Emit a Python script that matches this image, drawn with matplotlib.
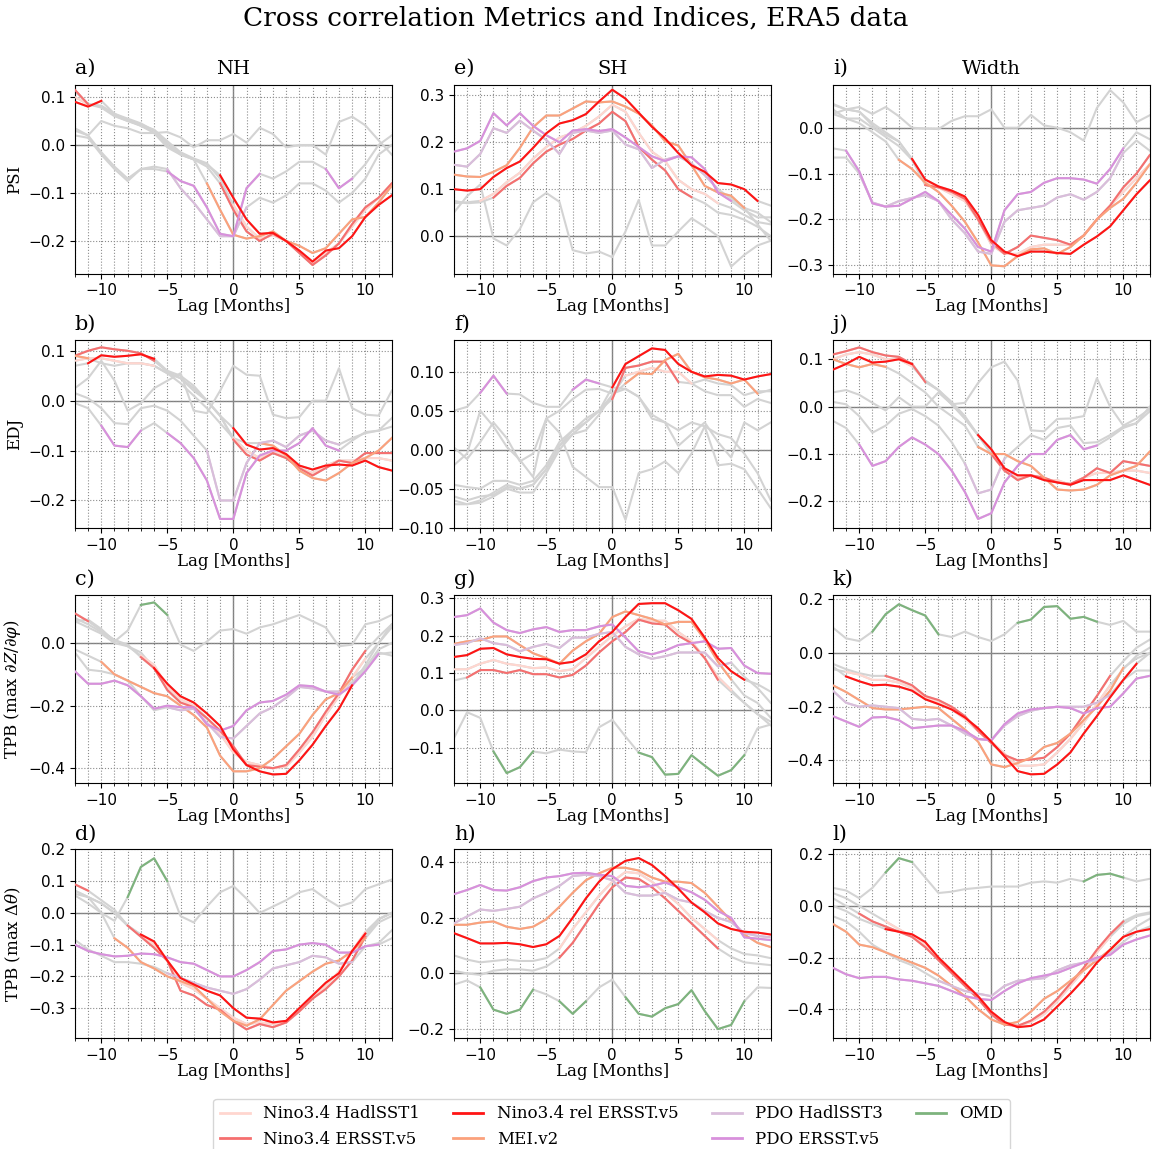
import matplotlib
matplotlib.use("Agg")
import matplotlib.pyplot as plt
import numpy as np
from matplotlib.lines import Line2D
from matplotlib.ticker import MultipleLocator

plt.rcParams['font.family'] = 'DejaVu Serif'
plt.rcParams['mathtext.fontset'] = 'dejavuserif'

lags = np.arange(-12, 13)

# series order in every panel
names = ["Nino3.4 HadlSST1", "Nino3.4 ERSST.v5", "Nino3.4 rel ERSST.v5", "MEI.v2",
         "PDO HadlSST3", "PDO ERSST.v5", "OMD"]
colours = ["#ffd6cf", "#f56f6f", "#ff1414", "#fba17c", "#d9bddb", "#d890dc", "#7db37d"]
grey = "#d3d3d3"

# ---- a) PSI NH ----
psi_nh = [
    [0.100, 0.085, 0.080, 0.062, 0.050, 0.042, 0.032, 0.008, -0.015, -0.028, -0.038, -0.070, -0.125, -0.170, -0.195, -0.188, -0.200, -0.222, -0.245, -0.225, -0.205, -0.170, -0.135, -0.110, -0.082],
    [0.115, 0.085, 0.082, 0.065, 0.052, 0.040, 0.030, 0.005, -0.018, -0.030, -0.045, -0.080, -0.135, -0.180, -0.200, -0.185, -0.200, -0.225, -0.250, -0.230, -0.205, -0.165, -0.130, -0.110, -0.080],
    [0.090, 0.080, 0.092, 0.065, 0.055, 0.045, 0.030, 0.000, -0.020, -0.030, -0.040, -0.063, -0.110, -0.155, -0.185, -0.183, -0.200, -0.220, -0.243, -0.220, -0.215, -0.190, -0.150, -0.125, -0.105],
    [0.112, 0.085, 0.078, 0.060, 0.050, 0.040, 0.025, -0.005, -0.020, -0.030, -0.080, -0.135, -0.187, -0.195, -0.190, -0.180, -0.200, -0.210, -0.225, -0.215, -0.185, -0.155, -0.150, -0.120, -0.085],
    [0.020, 0.015, -0.020, -0.050, -0.075, -0.050, -0.045, -0.050, -0.090, -0.120, -0.155, -0.190, -0.190, -0.130, -0.110, -0.120, -0.105, -0.080, -0.080, -0.095, -0.120, -0.100, -0.070, -0.020, 0.000],
    [0.035, 0.020, -0.015, -0.045, -0.070, -0.050, -0.050, -0.055, -0.075, -0.085, -0.130, -0.185, -0.190, -0.090, -0.060, -0.070, -0.055, -0.035, -0.035, -0.050, -0.090, -0.070, -0.040, 0.000, 0.020],
    [0.030, 0.020, 0.050, 0.040, 0.035, 0.025, 0.025, 0.027, 0.016, -0.005, 0.010, 0.010, 0.023, 0.005, 0.036, 0.023, -0.005, 0.000, 0.000, -0.020, 0.048, 0.059, 0.041, 0.010, -0.020],
]
psi_nh_sig = [[(-12, -11), (0, 12)], [(-12, -11), (-1, 12)], [(-12, -10), (-1, 12)], [(-12, -12), (-2, 12)],
              [(-5, 1)], [(-5, 2), (7, 9)], []]

# ---- b) EDJ NH ----
edj_nh = [
    [0.080, 0.085, 0.085, 0.080, 0.075, 0.075, 0.070, 0.055, 0.045, 0.020, 0.000, -0.030, -0.075, -0.100, -0.115, -0.100, -0.110, -0.135, -0.145, -0.130, -0.120, -0.120, -0.115, -0.115, -0.120],
    [0.090, 0.100, 0.107, 0.103, 0.100, 0.095, 0.080, 0.058, 0.045, 0.025, 0.000, -0.030, -0.078, -0.108, -0.120, -0.105, -0.115, -0.135, -0.150, -0.135, -0.120, -0.125, -0.105, -0.105, -0.105],
    [0.070, 0.075, 0.091, 0.088, 0.090, 0.093, 0.084, 0.060, 0.050, 0.030, 0.000, -0.030, -0.055, -0.088, -0.098, -0.095, -0.107, -0.130, -0.138, -0.130, -0.128, -0.130, -0.120, -0.133, -0.140],
    [0.090, 0.085, 0.075, 0.070, 0.075, 0.075, 0.070, 0.055, 0.035, 0.010, -0.015, -0.045, -0.075, -0.085, -0.085, -0.090, -0.110, -0.140, -0.155, -0.160, -0.145, -0.125, -0.115, -0.100, -0.075],
    [0.015, 0.005, -0.015, -0.045, -0.047, -0.015, -0.010, -0.020, -0.040, -0.070, -0.100, -0.200, -0.200, -0.125, -0.085, -0.080, -0.093, -0.070, -0.060, -0.080, -0.088, -0.075, -0.065, -0.060, -0.035],
    [-0.005, -0.015, -0.050, -0.090, -0.093, -0.060, -0.045, -0.065, -0.085, -0.115, -0.160, -0.237, -0.237, -0.145, -0.110, -0.100, -0.100, -0.085, -0.055, -0.090, -0.100, -0.080, -0.063, -0.060, -0.052],
    [0.025, 0.045, 0.080, 0.040, -0.020, -0.005, 0.025, 0.040, 0.055, -0.020, -0.025, 0.020, 0.070, 0.052, 0.050, -0.028, -0.035, -0.033, 0.000, 0.000, 0.065, -0.015, -0.028, -0.030, 0.020],
]
edj_nh_sig = [[(-12, -6), (0, 12)], [(-12, -6), (0, 12)], [(-11, -6), (0, 12)], [(-12, -11), (2, 12)],
              [(-2, 8)], [(-10, -7), (-5, 8)], []]

# ---- c) TPB NH (max dZ/dphi) ----
tpb_nh = [
    [0.080, 0.060, 0.035, 0.010, -0.010, -0.040, -0.070, -0.140, -0.180, -0.200, -0.240, -0.290, -0.350, -0.380, -0.390, -0.400, -0.395, -0.350, -0.300, -0.230, -0.170, -0.110, -0.050, 0.000, 0.050],
    [0.095, 0.070, 0.040, 0.010, -0.005, -0.045, -0.080, -0.150, -0.190, -0.205, -0.240, -0.280, -0.330, -0.390, -0.395, -0.400, -0.390, -0.340, -0.285, -0.220, -0.160, -0.085, -0.025, 0.020, 0.060],
    [0.070, 0.050, 0.030, 0.000, -0.010, -0.030, -0.080, -0.130, -0.170, -0.190, -0.225, -0.265, -0.340, -0.390, -0.410, -0.420, -0.418, -0.375, -0.325, -0.265, -0.210, -0.135, -0.070, 0.000, 0.060],
    [-0.020, -0.040, -0.060, -0.100, -0.120, -0.140, -0.160, -0.170, -0.200, -0.230, -0.270, -0.360, -0.410, -0.410, -0.400, -0.370, -0.330, -0.290, -0.230, -0.180, -0.160, -0.110, -0.080, -0.020, 0.000],
    [-0.030, -0.085, -0.090, -0.100, -0.120, -0.170, -0.215, -0.205, -0.215, -0.210, -0.255, -0.300, -0.305, -0.265, -0.225, -0.205, -0.175, -0.140, -0.145, -0.155, -0.155, -0.125, -0.085, -0.030, -0.040],
    [-0.090, -0.130, -0.130, -0.120, -0.135, -0.170, -0.210, -0.200, -0.205, -0.205, -0.260, -0.280, -0.265, -0.215, -0.190, -0.185, -0.165, -0.135, -0.138, -0.155, -0.165, -0.135, -0.090, -0.035, -0.030],
    [0.070, 0.075, 0.045, 0.005, 0.040, 0.122, 0.130, 0.090, -0.005, -0.025, 0.005, 0.040, 0.045, 0.030, 0.050, 0.060, 0.075, 0.090, 0.070, 0.050, -0.010, -0.005, 0.060, 0.070, 0.090],
]
tpb_nh_sig = [[(-7, 10)], [(-12, -11), (-7, 10)], [(-6, 9)], [(-10, 9)], [(-5, 8)], [(-12, 11)], [(-7, -5)]]

# ---- d) TPB NH (max dtheta) ----
tpb2_nh = [
    [0.060, 0.050, 0.030, 0.000, -0.040, -0.070, -0.100, -0.150, -0.220, -0.240, -0.270, -0.300, -0.330, -0.350, -0.345, -0.350, -0.345, -0.310, -0.270, -0.230, -0.185, -0.120, -0.060, -0.020, 0.000],
    [0.090, 0.070, 0.040, 0.010, -0.040, -0.075, -0.110, -0.150, -0.245, -0.260, -0.290, -0.305, -0.340, -0.367, -0.350, -0.360, -0.345, -0.310, -0.270, -0.240, -0.200, -0.150, -0.075, -0.020, 0.000],
    [0.070, 0.050, 0.030, 0.000, -0.040, -0.068, -0.090, -0.150, -0.205, -0.225, -0.245, -0.260, -0.300, -0.330, -0.333, -0.345, -0.340, -0.300, -0.260, -0.220, -0.190, -0.120, -0.065, -0.020, 0.000],
    [0.055, 0.030, 0.000, -0.080, -0.110, -0.155, -0.175, -0.200, -0.215, -0.230, -0.270, -0.310, -0.340, -0.355, -0.335, -0.290, -0.245, -0.215, -0.185, -0.160, -0.150, -0.120, -0.080, -0.030, -0.010],
    [-0.085, -0.115, -0.135, -0.155, -0.155, -0.160, -0.170, -0.190, -0.205, -0.220, -0.235, -0.245, -0.255, -0.240, -0.210, -0.175, -0.165, -0.155, -0.135, -0.140, -0.160, -0.155, -0.105, -0.095, -0.055],
    [-0.100, -0.120, -0.130, -0.137, -0.135, -0.128, -0.130, -0.140, -0.155, -0.160, -0.180, -0.200, -0.200, -0.180, -0.155, -0.120, -0.115, -0.100, -0.095, -0.100, -0.125, -0.125, -0.105, -0.100, -0.080],
    [0.070, 0.050, 0.000, -0.025, 0.050, 0.145, 0.172, 0.100, -0.010, -0.030, 0.020, 0.065, 0.085, 0.045, 0.000, 0.020, 0.040, 0.065, 0.075, 0.045, 0.020, 0.033, 0.075, 0.090, 0.105],
]
tpb2_nh_sig = [[(-7, 10)], [(-12, -11), (-8, 10)], [(-7, 10)], [(-9, 10)], [(-5, 9)], [(-12, 11)], [(-8, -5)]]

# ---- e) PSI SH ----
psi_sh = [
    [0.070, 0.072, 0.075, 0.090, 0.115, 0.135, 0.165, 0.190, 0.210, 0.220, 0.235, 0.255, 0.280, 0.265, 0.220, 0.180, 0.160, 0.120, 0.100, 0.090, 0.070, 0.060, 0.045, 0.030, 0.025],
    [0.075, 0.070, 0.072, 0.082, 0.107, 0.124, 0.155, 0.180, 0.195, 0.207, 0.225, 0.240, 0.265, 0.245, 0.190, 0.163, 0.140, 0.100, 0.083, 0.070, 0.050, 0.045, 0.035, 0.020, 0.000],
    [0.100, 0.097, 0.100, 0.126, 0.145, 0.159, 0.188, 0.219, 0.240, 0.247, 0.260, 0.287, 0.312, 0.293, 0.263, 0.233, 0.208, 0.177, 0.151, 0.137, 0.113, 0.110, 0.100, 0.075, 0.065],
    [0.131, 0.127, 0.126, 0.137, 0.151, 0.188, 0.232, 0.257, 0.257, 0.272, 0.287, 0.285, 0.287, 0.276, 0.261, 0.236, 0.202, 0.193, 0.151, 0.107, 0.093, 0.086, 0.060, 0.050, 0.030],
    [0.152, 0.148, 0.175, 0.230, 0.220, 0.246, 0.225, 0.205, 0.175, 0.220, 0.225, 0.220, 0.225, 0.195, 0.185, 0.145, 0.163, 0.170, 0.155, 0.130, 0.100, 0.080, 0.060, 0.025, -0.010],
    [0.180, 0.187, 0.203, 0.262, 0.236, 0.262, 0.235, 0.215, 0.200, 0.225, 0.228, 0.224, 0.228, 0.210, 0.190, 0.170, 0.160, 0.170, 0.168, 0.143, 0.093, 0.075, 0.055, 0.040, 0.040],
    [0.050, 0.085, 0.110, -0.005, -0.020, 0.015, 0.072, 0.092, 0.073, -0.030, -0.037, -0.033, -0.045, 0.010, 0.077, -0.020, -0.020, 0.010, 0.038, 0.020, 0.000, -0.065, -0.040, -0.020, -0.010],
]
psi_sh_sig = [[(-10, 8)], [(-9, 6)], [(-12, 11)], [(-12, 10)], [(-12, 8)], [(-12, 9)], []]

# ---- f) EDJ SH ----
edj_sh = [
    [-0.060, -0.065, -0.060, -0.058, -0.048, -0.050, -0.045, -0.025, 0.005, 0.025, 0.035, 0.050, 0.070, 0.095, 0.100, 0.105, 0.100, 0.100, 0.085, 0.090, 0.085, 0.083, 0.070, 0.075, 0.075],
    [-0.045, -0.048, -0.050, -0.040, -0.040, -0.045, -0.040, -0.020, 0.010, 0.025, 0.040, 0.050, 0.065, 0.105, 0.108, 0.113, 0.113, 0.087, 0.085, 0.075, 0.070, 0.070, 0.055, 0.065, 0.060],
    [-0.065, -0.070, -0.065, -0.055, -0.045, -0.050, -0.045, -0.025, 0.005, 0.020, 0.035, 0.050, 0.080, 0.110, 0.120, 0.130, 0.128, 0.110, 0.100, 0.094, 0.096, 0.095, 0.090, 0.094, 0.097],
    [-0.070, -0.070, -0.068, -0.060, -0.050, -0.055, -0.055, -0.030, 0.000, 0.020, 0.025, 0.045, 0.070, 0.085, 0.098, 0.097, 0.115, 0.123, 0.100, 0.093, 0.090, 0.085, 0.090, 0.072, 0.077],
    [0.003, -0.012, 0.010, 0.035, 0.015, -0.015, -0.005, 0.040, 0.050, 0.065, 0.077, 0.078, 0.072, 0.078, 0.068, 0.045, 0.035, 0.005, 0.020, 0.035, 0.010, -0.010, 0.035, 0.025, 0.035],
    [0.050, 0.055, 0.073, 0.095, 0.072, 0.071, 0.060, 0.055, 0.055, 0.077, 0.090, 0.085, 0.080, 0.078, 0.068, 0.040, 0.035, 0.025, 0.035, 0.030, 0.020, 0.015, -0.005, -0.030, -0.065],
    [-0.020, -0.005, 0.050, 0.030, 0.004, -0.013, -0.035, 0.040, 0.022, -0.022, -0.035, -0.048, -0.048, -0.090, -0.030, -0.025, -0.015, -0.030, -0.005, 0.030, -0.020, -0.018, -0.025, -0.050, -0.075],
]
edj_sh_sig = [[(1, 6)], [(0, 5)], [(0, 12)], [(1, 11)], [], [(-10, -8), (-3, -1)], []]

# ---- g) TPB SH (max dZ/dphi) ----
tpb_sh = [
    [0.110, 0.110, 0.125, 0.135, 0.125, 0.120, 0.113, 0.115, 0.105, 0.110, 0.140, 0.170, 0.200, 0.225, 0.245, 0.240, 0.240, 0.210, 0.185, 0.140, 0.090, 0.055, 0.020, -0.010, -0.030],
    [0.080, 0.088, 0.108, 0.108, 0.100, 0.108, 0.097, 0.097, 0.088, 0.095, 0.120, 0.155, 0.185, 0.210, 0.243, 0.233, 0.230, 0.200, 0.180, 0.140, 0.082, 0.050, 0.020, -0.010, -0.040],
    [0.143, 0.148, 0.165, 0.167, 0.150, 0.143, 0.138, 0.137, 0.125, 0.130, 0.150, 0.185, 0.210, 0.250, 0.285, 0.287, 0.287, 0.268, 0.245, 0.195, 0.140, 0.105, 0.082, 0.070, 0.050],
    [0.178, 0.185, 0.188, 0.198, 0.198, 0.175, 0.153, 0.140, 0.125, 0.160, 0.185, 0.205, 0.250, 0.265, 0.255, 0.245, 0.230, 0.237, 0.237, 0.190, 0.130, 0.083, 0.040, 0.020, -0.020],
    [0.175, 0.180, 0.193, 0.180, 0.175, 0.158, 0.170, 0.178, 0.167, 0.195, 0.195, 0.205, 0.210, 0.170, 0.150, 0.138, 0.145, 0.155, 0.155, 0.155, 0.118, 0.128, 0.090, 0.060, 0.020],
    [0.250, 0.255, 0.273, 0.235, 0.215, 0.207, 0.217, 0.223, 0.210, 0.215, 0.215, 0.225, 0.230, 0.195, 0.158, 0.150, 0.160, 0.175, 0.180, 0.185, 0.165, 0.167, 0.120, 0.100, 0.098],
    [-0.075, -0.005, -0.020, -0.110, -0.168, -0.152, -0.110, -0.115, -0.105, -0.110, -0.112, -0.045, -0.025, -0.070, -0.113, -0.125, -0.172, -0.170, -0.120, -0.148, -0.175, -0.160, -0.120, -0.048, -0.038],
]
tpb_sh_sig = [[(-12, 9)], [(-11, 8)], [(-12, 10)], [(-12, 9)], [(-12, 9)], [(-12, 12)], [(-9, -6), (2, 10)]]

# ---- h) TPB SH (max dtheta) ----
tpb2_sh = [
    [0.065, 0.050, 0.040, 0.045, 0.050, 0.045, 0.045, 0.055, 0.090, 0.160, 0.220, 0.280, 0.330, 0.365, 0.360, 0.330, 0.290, 0.250, 0.200, 0.160, 0.120, 0.090, 0.070, 0.065, 0.055],
    [0.010, 0.000, -0.005, 0.010, 0.015, 0.015, 0.010, 0.025, 0.057, 0.110, 0.180, 0.250, 0.310, 0.345, 0.340, 0.310, 0.270, 0.225, 0.180, 0.135, 0.090, 0.060, 0.040, 0.035, 0.030],
    [0.145, 0.127, 0.108, 0.108, 0.110, 0.105, 0.095, 0.105, 0.135, 0.200, 0.270, 0.330, 0.375, 0.405, 0.415, 0.390, 0.350, 0.305, 0.255, 0.220, 0.180, 0.160, 0.150, 0.147, 0.140],
    [0.175, 0.175, 0.183, 0.187, 0.168, 0.160, 0.168, 0.195, 0.240, 0.290, 0.335, 0.360, 0.380, 0.380, 0.370, 0.345, 0.330, 0.330, 0.325, 0.290, 0.240, 0.190, 0.140, 0.110, 0.095],
    [0.180, 0.205, 0.230, 0.225, 0.232, 0.240, 0.270, 0.290, 0.315, 0.350, 0.355, 0.350, 0.335, 0.290, 0.280, 0.280, 0.290, 0.265, 0.255, 0.225, 0.200, 0.185, 0.145, 0.135, 0.130],
    [0.285, 0.300, 0.318, 0.300, 0.298, 0.310, 0.332, 0.345, 0.350, 0.360, 0.362, 0.355, 0.350, 0.315, 0.310, 0.315, 0.327, 0.310, 0.292, 0.265, 0.225, 0.200, 0.130, 0.125, 0.120],
    [-0.040, -0.025, -0.050, -0.130, -0.145, -0.130, -0.058, -0.075, -0.100, -0.145, -0.100, -0.050, -0.022, -0.085, -0.145, -0.155, -0.125, -0.110, -0.060, -0.135, -0.200, -0.185, -0.100, -0.050, -0.052],
]
tpb2_sh_sig = [[(-4, 8)], [(-4, 8)], [(-12, 12)], [(-12, 12)], [(-12, 12)], [(-12, 12)],
               [(-10, -6), (-4, -2), (1, 10)]]

# ---- i) Width PSI ----
psi_w = [
    [0.030, 0.020, 0.020, 0.000, -0.020, -0.040, -0.070, -0.120, -0.130, -0.145, -0.160, -0.200, -0.255, -0.275, -0.275, -0.260, -0.255, -0.255, -0.255, -0.235, -0.200, -0.170, -0.140, -0.110, -0.080],
    [0.050, 0.040, 0.035, 0.005, -0.015, -0.030, -0.070, -0.125, -0.130, -0.140, -0.155, -0.200, -0.250, -0.275, -0.260, -0.235, -0.240, -0.245, -0.255, -0.235, -0.200, -0.170, -0.130, -0.100, -0.060],
    [0.030, 0.040, 0.035, 0.010, -0.010, -0.030, -0.068, -0.113, -0.128, -0.137, -0.150, -0.190, -0.245, -0.270, -0.280, -0.270, -0.270, -0.273, -0.275, -0.255, -0.237, -0.215, -0.180, -0.145, -0.115],
    [0.040, 0.020, 0.010, -0.010, -0.030, -0.070, -0.090, -0.120, -0.140, -0.170, -0.205, -0.250, -0.300, -0.302, -0.280, -0.265, -0.263, -0.275, -0.260, -0.235, -0.200, -0.175, -0.155, -0.120, -0.080],
    [-0.065, -0.065, -0.100, -0.163, -0.172, -0.160, -0.153, -0.147, -0.160, -0.200, -0.230, -0.270, -0.275, -0.205, -0.180, -0.175, -0.170, -0.152, -0.145, -0.157, -0.140, -0.110, -0.055, -0.028, -0.050],
    [-0.045, -0.050, -0.095, -0.165, -0.172, -0.170, -0.155, -0.140, -0.160, -0.190, -0.220, -0.260, -0.270, -0.180, -0.145, -0.140, -0.120, -0.110, -0.110, -0.113, -0.122, -0.090, -0.045, -0.010, -0.025],
    [0.052, 0.040, 0.045, 0.030, 0.045, 0.025, 0.000, -0.002, -0.003, 0.015, 0.025, 0.025, 0.040, 0.000, 0.000, 0.028, 0.005, 0.000, -0.010, -0.028, 0.043, 0.082, 0.055, 0.012, 0.027],
]
psi_w_sig = [[(-5, 12)], [(-5, 12)], [(-6, 12)], [(-7, 12)], [(-10, 10)], [(-11, 10)], []]

# ---- j) Width EDJ ----
edj_w = [
    [0.100, 0.110, 0.115, 0.110, 0.100, 0.100, 0.085, 0.055, 0.035, 0.005, -0.025, -0.060, -0.100, -0.135, -0.150, -0.145, -0.155, -0.155, -0.165, -0.150, -0.140, -0.140, -0.135, -0.135, -0.140],
    [0.110, 0.117, 0.125, 0.115, 0.108, 0.105, 0.090, 0.052, 0.035, 0.005, -0.025, -0.060, -0.100, -0.135, -0.155, -0.145, -0.150, -0.160, -0.163, -0.150, -0.130, -0.140, -0.115, -0.120, -0.125],
    [0.078, 0.090, 0.105, 0.093, 0.095, 0.100, 0.090, 0.055, 0.035, 0.010, -0.020, -0.060, -0.090, -0.130, -0.145, -0.145, -0.155, -0.160, -0.165, -0.155, -0.155, -0.155, -0.145, -0.155, -0.165],
    [0.100, 0.090, 0.083, 0.090, 0.084, 0.070, 0.050, 0.030, 0.000, -0.020, -0.040, -0.085, -0.100, -0.100, -0.115, -0.125, -0.150, -0.175, -0.177, -0.175, -0.165, -0.145, -0.135, -0.125, -0.095],
    [0.010, 0.005, -0.020, -0.055, -0.040, -0.015, -0.005, -0.020, -0.040, -0.075, -0.120, -0.183, -0.175, -0.110, -0.085, -0.060, -0.070, -0.045, -0.040, -0.077, -0.075, -0.060, -0.042, -0.035, 0.000],
    [-0.030, -0.045, -0.080, -0.125, -0.115, -0.085, -0.065, -0.080, -0.100, -0.135, -0.180, -0.237, -0.225, -0.160, -0.125, -0.100, -0.100, -0.070, -0.060, -0.090, -0.082, -0.065, -0.045, -0.035, -0.010],
    [0.030, 0.035, 0.025, 0.008, -0.008, 0.020, 0.000, 0.000, 0.030, 0.005, 0.008, 0.050, 0.083, 0.095, 0.055, -0.050, -0.052, -0.026, -0.025, -0.020, 0.060, 0.000, -0.040, -0.025, -0.005],
]
edj_w_sig = [[(-12, -6), (0, 12)], [(-12, -5), (0, 12)], [(-12, -6), (-1, 12)], [(-12, -8), (-1, 12)],
             [(-2, 1)], [(-10, 8)], []]

# ---- k) Width TPB (max dZ/dphi) ----
tpb_w = [
    [-0.060, -0.070, -0.080, -0.100, -0.100, -0.110, -0.130, -0.165, -0.185, -0.210, -0.245, -0.290, -0.330, -0.375, -0.420, -0.420, -0.415, -0.370, -0.320, -0.260, -0.190, -0.120, -0.060, -0.010, 0.020],
    [-0.040, -0.060, -0.075, -0.085, -0.085, -0.100, -0.120, -0.160, -0.175, -0.200, -0.235, -0.290, -0.335, -0.380, -0.400, -0.397, -0.390, -0.350, -0.300, -0.230, -0.160, -0.085, -0.030, 0.020, 0.050],
    [-0.050, -0.087, -0.105, -0.120, -0.118, -0.125, -0.140, -0.172, -0.190, -0.210, -0.240, -0.280, -0.330, -0.385, -0.440, -0.452, -0.450, -0.415, -0.370, -0.300, -0.235, -0.165, -0.100, -0.040, 0.000],
    [-0.120, -0.145, -0.175, -0.205, -0.210, -0.210, -0.205, -0.200, -0.205, -0.245, -0.285, -0.330, -0.415, -0.425, -0.410, -0.390, -0.350, -0.335, -0.300, -0.250, -0.200, -0.140, -0.055, -0.020, 0.000],
    [-0.140, -0.185, -0.200, -0.195, -0.200, -0.205, -0.245, -0.250, -0.245, -0.270, -0.300, -0.320, -0.325, -0.270, -0.235, -0.215, -0.205, -0.200, -0.200, -0.200, -0.185, -0.155, -0.100, -0.065, -0.065],
    [-0.235, -0.255, -0.275, -0.240, -0.238, -0.250, -0.280, -0.275, -0.270, -0.270, -0.290, -0.320, -0.325, -0.265, -0.225, -0.210, -0.205, -0.200, -0.205, -0.225, -0.205, -0.200, -0.150, -0.095, -0.085],
    [0.095, 0.055, 0.045, 0.080, 0.145, 0.182, 0.160, 0.140, 0.070, 0.060, 0.080, 0.060, 0.045, 0.070, 0.113, 0.125, 0.172, 0.175, 0.128, 0.135, 0.117, 0.105, 0.120, 0.080, 0.080],
]
tpb_w_sig = [[(-11, 9)], [(-8, 9)], [(-11, 11)], [(-12, 10)], [(-12, 9)], [(-12, 12)], [(-9, -4), (2, 8)]]

# ---- l) Width TPB (max dtheta) ----
tpb2_w = [
    [0.050, 0.030, 0.000, -0.030, -0.060, -0.090, -0.120, -0.150, -0.200, -0.250, -0.300, -0.350, -0.410, -0.455, -0.465, -0.450, -0.420, -0.370, -0.310, -0.250, -0.180, -0.120, -0.070, -0.040, -0.030],
    [0.030, 0.000, -0.030, -0.060, -0.080, -0.100, -0.120, -0.160, -0.210, -0.260, -0.310, -0.360, -0.420, -0.460, -0.465, -0.445, -0.410, -0.360, -0.300, -0.240, -0.170, -0.110, -0.060, -0.035, -0.025],
    [0.000, -0.020, -0.050, -0.070, -0.090, -0.100, -0.110, -0.140, -0.200, -0.250, -0.300, -0.350, -0.410, -0.450, -0.470, -0.465, -0.440, -0.390, -0.340, -0.285, -0.220, -0.170, -0.120, -0.100, -0.090],
    [-0.070, -0.100, -0.150, -0.160, -0.180, -0.200, -0.220, -0.240, -0.270, -0.310, -0.350, -0.400, -0.440, -0.460, -0.450, -0.410, -0.360, -0.330, -0.290, -0.250, -0.210, -0.170, -0.120, -0.080, -0.050],
    [-0.040, -0.060, -0.100, -0.150, -0.180, -0.210, -0.230, -0.260, -0.290, -0.310, -0.330, -0.340, -0.350, -0.310, -0.290, -0.285, -0.280, -0.250, -0.230, -0.220, -0.210, -0.180, -0.140, -0.100, -0.080],
    [-0.240, -0.265, -0.280, -0.275, -0.275, -0.285, -0.290, -0.300, -0.310, -0.330, -0.350, -0.360, -0.365, -0.330, -0.300, -0.280, -0.270, -0.260, -0.240, -0.220, -0.200, -0.190, -0.150, -0.130, -0.115],
    [0.070, 0.060, 0.030, 0.070, 0.130, 0.185, 0.170, 0.110, 0.050, 0.055, 0.065, 0.070, 0.075, 0.075, 0.075, 0.090, 0.095, 0.090, 0.105, 0.095, 0.120, 0.125, 0.110, 0.095, 0.105],
]
tpb2_w_sig = [[(-8, 9)], [(-10, 10)], [(-8, 12)], [(-12, 10)], [(-4, 9)], [(-12, 12)], [(-8, -6), (7, 10)]]

ylab_tpb = r"TPB (max $\partial Z/\partial\varphi$)"
ylab_tpb2 = r"TPB (max $\Delta\theta$)"

# (data, significance, letter, column title, y label, y limits, y tick step)
panels = [
    [(psi_nh, psi_nh_sig, "a)", "NH", "PSI", (-0.268, 0.125), 0.1),
     (edj_nh, edj_nh_sig, "b)", "", "EDJ", (-0.256, 0.122), 0.1),
     (tpb_nh, tpb_nh_sig, "c)", "", ylab_tpb, (-0.448, 0.155), 0.2),
     (tpb2_nh, tpb2_nh_sig, "d)", "", ylab_tpb2, (-0.394, 0.2), 0.1)],
    [(psi_sh, psi_sh_sig, "e)", "SH", "", (-0.08, 0.322), 0.1),
     (edj_sh, edj_sh_sig, "f)", "", "", (-0.101, 0.141), 0.05),
     (tpb_sh, tpb_sh_sig, "g)", "", "", (-0.195, 0.31), 0.1),
     (tpb2_sh, tpb2_sh_sig, "h)", "", "", (-0.232, 0.446), 0.2)],
    [(psi_w, psi_w_sig, "i)", "Width", "", (-0.318, 0.093), 0.1),
     (edj_w, edj_w_sig, "j)", "", "", (-0.257, 0.141), 0.1),
     (tpb_w, tpb_w_sig, "k)", "", "", (-0.485, 0.218), 0.2),
     (tpb2_w, tpb2_w_sig, "l)", "", "", (-0.512, 0.219), 0.2)],
]

fig, axes = plt.subplots(4, 3, figsize=(11.52, 11.49), dpi=100)
plt.subplots_adjust(left=0.065, right=0.998, top=0.926, bottom=0.0966, wspace=0.196, hspace=0.351)

draw_order = [0, 1, 3, 4, 5, 6, 2]  # bright red on top

for col in range(3):
    for row in range(4):
        ax = axes[row, col]
        data, sig, letter, title, ylab, ylim, step = panels[col][row]

        ax.axhline(0, color="grey", lw=1.0, zorder=1)
        ax.axvline(0, color="grey", lw=1.0, zorder=1)

        for vals in data:
            ax.plot(lags, vals, color=grey, lw=1.5, zorder=2)
        for k in draw_order:
            vals = np.array(data[k], dtype=float)
            mask = np.zeros(len(lags), dtype=bool)
            for a, b in sig[k]:
                mask |= (lags >= a) & (lags <= b)
            ax.plot(lags, np.where(mask, vals, np.nan), color=colours[k], lw=1.5, zorder=3)

        ax.set_xlim(-12, 12)
        ax.set_ylim(*ylim)
        ax.xaxis.set_major_locator(MultipleLocator(5))
        ax.xaxis.set_minor_locator(MultipleLocator(1))
        ax.yaxis.set_major_locator(MultipleLocator(step))
        ax.grid(which="both", axis="x", ls=":", color="0.55", lw=0.8)
        ax.grid(which="major", axis="y", ls=":", color="0.55", lw=0.8)
        ax.tick_params(labelsize=11, labelfontfamily="DejaVu Sans")

        ax.set_xlabel("Lag [Months]", fontsize=12, labelpad=0)
        if ylab:
            ax.set_ylabel(ylab, fontsize=12)
        ax.set_title(letter, loc="left", fontsize=15, pad=7)
        if title:
            ax.set_title(title, fontsize=14, pad=8)

fig.suptitle("Cross correlation Metrics and Indices, ERA5 data", fontsize=19, y=0.995)

handles = [Line2D([], [], color=c, lw=2) for c in colours]
fig.legend(handles, names, loc="lower center", bbox_to_anchor=(0.531, -0.012), ncol=4,
           fontsize=12, columnspacing=2.0, handlelength=1.8)

plt.savefig("out.png", dpi=100)
